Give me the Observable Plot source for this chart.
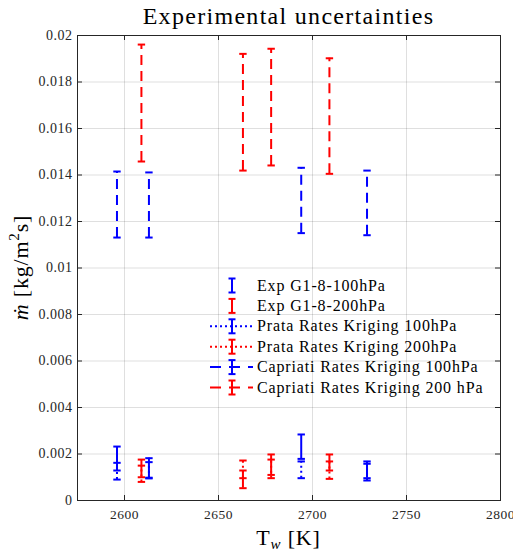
<!DOCTYPE html>
<html><head><meta charset="utf-8">
<script src="https://cdn.jsdelivr.net/npm/d3@7"></script>
<script src="https://cdn.jsdelivr.net/npm/@observablehq/plot@0.6"></script>
<style>body{margin:0;background:#fff} svg{display:block} svg text{font-family:"Liberation Serif",serif !important}</style>
</head><body><div id="chart"></div>
<script>
// ---- data ----
const temps100 = [2596, 2613, 2694, 2729];
const temps200 = [2609, 2663, 2678, 2709];
const exp100Low = [0.00129, 0.00098, 0.00179, 0.00096];
const exp100High = [0.00232, 0.00182, 0.00284, 0.00168];
const exp200Low = [0.00100, 0.00053, 0.00110, 0.00129];
const exp200High = [0.00176, 0.00129, 0.00198, 0.00198];
const prata100Low = [0.00090, 0.00095, 0.00096, 0.00086];
const prata100High = [0.00162, 0.00165, 0.00168, 0.00158];
const prata200Low = [0.00080, 0.00096, 0.00096, 0.00093];
const prata200High = [0.00150, 0.00172, 0.00176, 0.00168];
const capriati100Low = [0.01131, 0.01131, 0.01150, 0.01141];
const capriati100High = [0.01415, 0.01411, 0.01431, 0.01419];
const capriati200Low = [0.01458, 0.01419, 0.01441, 0.01405];
const capriati200High = [0.01961, 0.01921, 0.01943, 0.01902];
const seriesNames = ["Exp G1-8-100hPa", "Exp G1-8-200hPa", "Prata Rates Kriging 100hPa",
  "Prata Rates Kriging 200hPa", "Capriati Rates Kriging 100hPa", "Capriati Rates Kriging 200 hPa"];
const xTicks = [2600, 2650, 2700, 2750, 2800];
const yTicks = [0, 0.002, 0.004, 0.006, 0.008, 0.01, 0.012, 0.014, 0.016, 0.018, 0.02];
const yTickLabels = ["0", "0.002", "0.004", "0.006", "0.008", "0.01", "0.012", "0.014", "0.016", "0.018", "0.02"];
const titleText = "Experimental uncertainties";

// ---- styles ----
const BLUE = "#0000ff", RED = "#ff0000";
const styles = [
  {color: BLUE, dash: null}, {color: RED, dash: null},
  {color: BLUE, dash: "2,3"}, {color: RED, dash: "2,3"},
  {color: BLUE, dash: "10,6"}, {color: RED, dash: "10,6"}
];
const seriesData = [
  [temps100, exp100Low, exp100High], [temps200, exp200Low, exp200High],
  [temps100, prata100Low, prata100High], [temps200, prata200Low, prata200High],
  [temps100, capriati100Low, capriati100High], [temps200, capriati200Low, capriati200High]
];
const rows = seriesData.map(([xs, lo, hi], s) => xs.map((x, j) => ({s, x, low: lo[j], high: hi[j]})));

const W = 513, H = 556, mT = 35, mB = 56, mL = 77, mR = 13;
const iW = W - mL - mR, iH = H - mT - mB;
const FONT = "Liberation Serif";
const AX = "#262626";

const capSymbol = {draw(ctx, size) { const r = Math.sqrt(size / Math.PI); ctx.moveTo(-r, 0); ctx.lineTo(r, 0); }};

const marks = [
  Plot.gridX(xTicks, {stroke: AX, strokeOpacity: 0.15, strokeWidth: 1}),
  Plot.gridY(yTicks, {stroke: AX, strokeOpacity: 0.15, strokeWidth: 1}),
];
rows.forEach((r, s) => {
  const st = styles[s];
  marks.push(Plot.ruleX(r, {x: "x", y1: "low", y2: "high", stroke: st.color, strokeWidth: 2, strokeDasharray: st.dash || undefined}));
  marks.push(Plot.dot(r, {x: "x", y: "low", symbol: capSymbol, r: 3.7, stroke: st.color, strokeWidth: 2, fill: "none"}));
  marks.push(Plot.dot(r, {x: "x", y: "high", symbol: capSymbol, r: 3.7, stroke: st.color, strokeWidth: 2, fill: "none"}));
});
marks.push(
  Plot.ruleX(xTicks, {stroke: AX, insetTop: iH - 5}),
  Plot.ruleX(xTicks, {stroke: AX, insetBottom: iH - 5}),
  Plot.ruleY(yTicks, {stroke: AX, insetRight: iW - 5}),
  Plot.ruleY(yTicks, {stroke: AX, insetLeft: iW - 5}),
  Plot.frame({stroke: AX, strokeWidth: 1}),
  Plot.axisX(xTicks, {tickSize: 0, tickPadding: 9, label: null, fill: AX, fontSize: 13.5, fontFamily: FONT, tickFormat: d => String(d)}),
  Plot.axisY(yTicks, {tickSize: 0, tickPadding: 5, label: null, fill: AX, fontSize: 14, fontFamily: FONT, tickFormat: d => yTickLabels[yTicks.indexOf(d)]})
);

const chart = Plot.plot({
  width: W, height: H, marginTop: mT, marginBottom: mB, marginLeft: mL, marginRight: mR,
  x: {domain: [2575, 2800]}, y: {domain: [0, 0.02]},
  style: {fontFamily: FONT, background: "#fff", letterSpacing: "0.5px"},
  marks
});
document.getElementById("chart").append(chart);

const svg = d3.select(chart);
// title
svg.append("text").attr("x", mL + iW / 2).attr("y", 24).attr("text-anchor", "middle").attr("font-family", FONT)
  .attr("font-size", 24).attr("letter-spacing", "1.3px").attr("fill", "#000").text(titleText);
// y label
const yl = svg.append("text").attr("transform", `translate(28,${mT + iH / 2}) rotate(-90)`).attr("font-family", FONT)
  .attr("text-anchor", "middle").attr("font-size", 22).attr("letter-spacing", "0.8px").attr("fill", "#000");
yl.append("tspan").attr("font-style", "italic").text("ṁ");
yl.append("tspan").text(" [kg/m");
yl.append("tspan").attr("font-size", 15).attr("dy", -9).text("2");
yl.append("tspan").attr("dy", 9).text("s]");
// x label
const xl = svg.append("text").attr("x", mL + iW / 2).attr("y", 545).attr("text-anchor", "middle").attr("font-family", FONT)
  .attr("font-size", 22).attr("letter-spacing", "0.8px").attr("fill", "#000");
xl.append("tspan").text("T");
xl.append("tspan").attr("font-style", "italic").attr("font-size", 15).attr("dy", 4).text("w");
xl.append("tspan").attr("dy", -4).text(" [K]");

// legend
const lg = svg.append("g").attr("font-family", FONT);
const lx = 232, ly0 = 285.5, ldy = 20.4;
seriesNames.forEach((name, i) => {
  const y = ly0 + i * ldy, st = styles[i];
  if (st.dash) {
    lg.append("line").attr("x1", 210).attr("x2", 253).attr("y1", y).attr("y2", y)
      .attr("stroke", st.color).attr("stroke-width", 2).attr("stroke-dasharray", i >= 4 ? "11,8" : "2,3");
  }
  lg.append("line").attr("x1", lx).attr("x2", lx).attr("y1", y - 7).attr("y2", y + 7)
    .attr("stroke", st.color).attr("stroke-width", 2);
  [y - 7, y + 7].forEach(cy => lg.append("line").attr("x1", lx - 3.5).attr("x2", lx + 3.5)
    .attr("y1", cy).attr("y2", cy).attr("stroke", st.color).attr("stroke-width", 2));
  lg.append("text").attr("x", 257).attr("y", y).attr("dy", "0.32em").attr("font-size", 16).attr("font-family", FONT)
    .attr("text-anchor", "start").attr("letter-spacing", "0.85px").attr("fill", "#000").text(name);
});
</script></body></html>
